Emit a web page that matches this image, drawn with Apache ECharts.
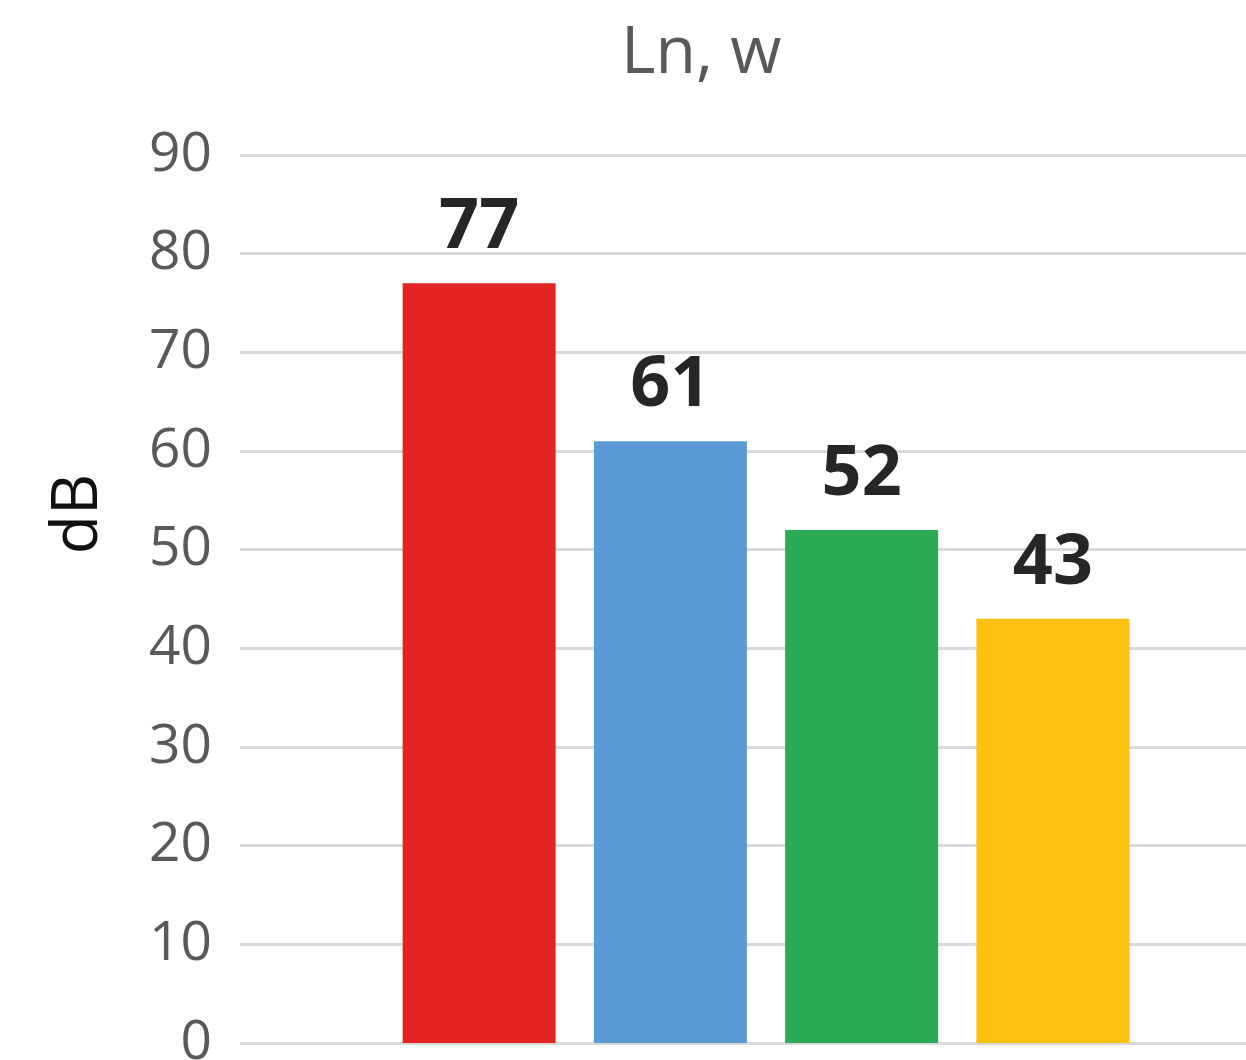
<!DOCTYPE html>
<html>
<head>
<meta charset="utf-8">
<title>Ln, w</title>
<script src="https://cdn.jsdelivr.net/npm/echarts@6/dist/echarts.min.js"></script>
<style>
    html, body { margin: 0; padding: 0; background: #fff; }
    #chart { width: 1246px; height: 1060px; }
</style>
</head>
<body>
<div id="chart"></div>
<script>
;
(function () {

    var categories = [''];
    var seriesNames = ['1', '2', '3', '4'];
    var seriesValues = [77, 61, 52, 43];
    var seriesColors = ['#e32422', '#5b9bd5', '#2aaa55', '#fcc010'];
    var yTicks = { min: 0, max: 90, step: 10 };

    var font = "'Open Sans', 'Noto Sans', sans-serif";

    var series = seriesNames.map(function (name, i) {
        return {
            name: name,
            type: 'bar',
            data: [seriesValues[i]],
            barWidth: 153,
            barGap: '25%',
            itemStyle: { color: seriesColors[i] },
            label: {
                show: true,
                position: 'top',
                distance: 20,
                fontFamily: font,
                fontWeight: 'bold',
                fontSize: 70,
                color: '#262626'
            }
        };
    });

    var option = {
        animation: false,
        title: {
            text: 'Ln, w',
            left: 616,
            top: 16,
            textStyle: {
                fontFamily: font,
                fontWeight: 'normal',
                fontSize: 66,
                color: '#595959'
            }
        },
        grid: {
            left: 240,
            top: 155,
            width: 1052,
            height: 888,
            outerBoundsMode: 'none'
        },
        xAxis: {
            type: 'category',
            data: categories,
            axisLine: { show: false },
            axisTick: { show: false },
            axisLabel: { show: false }
        },
        yAxis: {
            type: 'value',
            min: yTicks.min,
            max: yTicks.max,
            interval: yTicks.step,
            axisLine: { show: false },
            axisTick: { show: false },
            axisLabel: {
                margin: 28,
                fontFamily: font,
                fontSize: 55,
                color: '#595959'
            },
            splitLine: {
                lineStyle: { color: '#d9d9d9', width: 3 }
            }
        },
        graphic: [{
            type: 'text',
            x: 79,
            y: 514,
            rotation: Math.PI / 2,
            style: {
                text: 'dB',
                fontFamily: font,
                fontSize: 64,
                fontWeight: 'normal',
                fill: '#111',
                align: 'center',
                verticalAlign: 'middle'
            }
        }],
        series: series
    };

    var myChart = echarts.init(document.getElementById('chart'));
    myChart.setOption(option);

})();
</script>
</body>
</html>
